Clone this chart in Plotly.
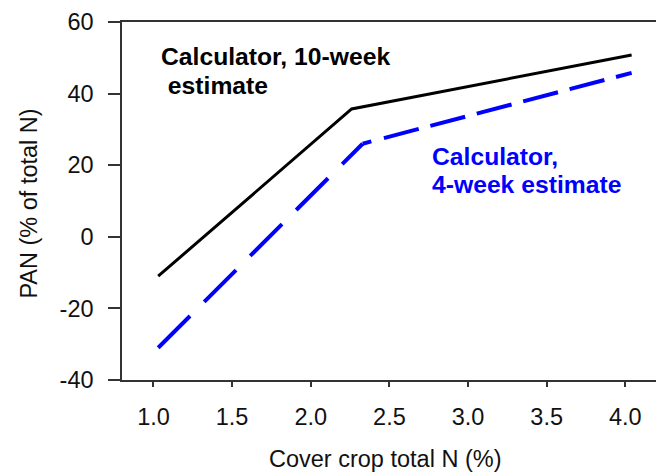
import plotly.graph_objects as go

# Data
n_10wk = [1.03, 2.26, 4.04]          # cover crop total N (%)
pan_10wk = [-11.0, 35.7, 50.8]       # PAN (% of total N), 10-week estimate
n_4wk = [1.03, 2.33, 4.04]
pan_4wk = [-31.0, 26.0, 45.8]        # PAN (% of total N), 4-week estimate

x_ticks = [1.0, 1.5, 2.0, 2.5, 3.0, 3.5, 4.0]
x_ticklabels = ["1.0", "1.5", "2.0", "2.5", "3.0", "3.5", "4.0"]
y_ticks = [-40, -20, 0, 20, 40, 60]
y_ticklabels = ["-40", "-20", "0", "20", "40", "60"]

FONT = "Liberation Sans, Arial, sans-serif"
BLUE = "#0000FF"
ANN_SIZE = 24.7

fig = go.Figure()
fig.add_trace(go.Scatter(x=n_10wk, y=pan_10wk, mode="lines",
                         line=dict(color="black", width=3), hoverinfo="skip"))
# 4-week estimate drawn in two pieces (dash pattern differs between the two segments)
fig.add_trace(go.Scatter(x=n_4wk[:2], y=pan_4wk[:2], mode="lines",
                         line=dict(color=BLUE, width=4, dash="45px,20px"), hoverinfo="skip"))
fig.add_trace(go.Scatter(x=n_4wk[1:], y=pan_4wk[1:], mode="lines",
                         line=dict(color=BLUE, width=4,
                                   dash="9px,13px,36px,12px,36px,12px,36px,12px,36px,12px,36px,12px,36px,12px"),
                         hoverinfo="skip"))

ann = [
    dict(text="<b>Calculator, 10-week</b>", x=(158.5 - 122) / 534, y=0.903,
         xanchor="left", yanchor="middle", font=dict(size=ANN_SIZE, color="black", family=FONT)),
    dict(text="<b>\u00a0estimate</b>", x=(158.5 - 122) / 534, y=0.824,
         xanchor="left", yanchor="middle", font=dict(size=ANN_SIZE, color="black", family=FONT)),
    dict(text="<b>Calculator,</b>", x=(430 - 122) / 534, y=0.6237,
         xanchor="left", yanchor="middle", font=dict(size=ANN_SIZE, color=BLUE, family=FONT)),
    dict(text="<b>4-week estimate</b>", x=(429.5 - 122) / 534, y=0.5447,
         xanchor="left", yanchor="middle", font=dict(size=ANN_SIZE, color=BLUE, family=FONT)),
    dict(text="Cover crop total N (%)", x=(267 - 122) / 534, y=-0.2212,
         xanchor="left", yanchor="middle", font=dict(size=23.5, color="#111", family=FONT)),
    dict(text="PAN (% of total N)", x=(28.6 - 122) / 534, y=(380 - 301) / 358,
         xanchor="center", yanchor="bottom", textangle=-90,
         font=dict(size=23.5, color="#111", family=FONT)),
]
for a in ann:
    a.update(xref="paper", yref="paper", showarrow=False)

fig.update_layout(
    width=656, height=472,
    margin=dict(l=122, r=0, t=22, b=92, pad=0),
    paper_bgcolor="white", plot_bgcolor="white",
    showlegend=False,
    annotations=ann,
    xaxis=dict(range=[0.8, 4.195], tickvals=x_ticks, ticktext=x_ticklabels,
               showgrid=False, zeroline=False, showline=True, mirror=True,
               linecolor="#333", linewidth=1.5,
               ticks="outside", ticklen=5, tickwidth=1.5, tickcolor="#333",
               ticklabelstandoff=10,
               tickfont=dict(size=23.5, color="#111", family=FONT)),
    yaxis=dict(range=[-40, 60], tickvals=y_ticks, ticktext=y_ticklabels,
               showgrid=False, zeroline=False, showline=True,
               linecolor="#333", linewidth=1.5,
               ticks="outside", ticklen=12, tickwidth=1.5, tickcolor="#333",
               ticklabelstandoff=10,
               tickfont=dict(size=23.5, color="#111", family=FONT)),
)

fig.write_html("out.html")
